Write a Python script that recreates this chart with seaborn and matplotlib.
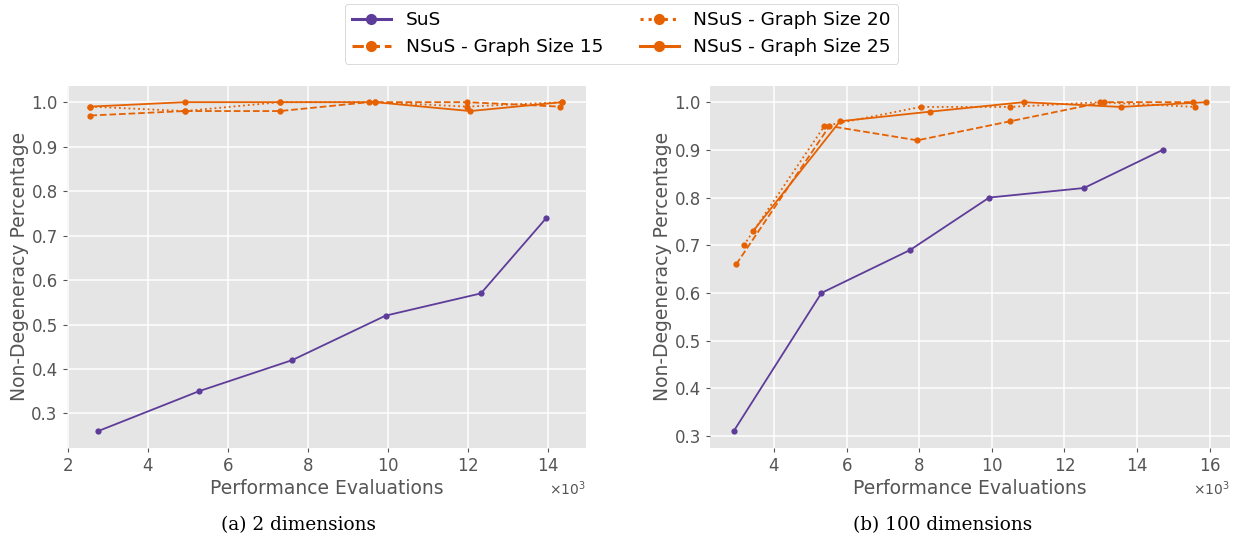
import matplotlib
matplotlib.use("Agg")
import matplotlib.pyplot as plt
import seaborn as sns
import numpy as np
from matplotlib.lines import Line2D
from matplotlib.ticker import ScalarFormatter

plt.style.use("ggplot")

# ---------------- data (x in performance evaluations) ----------------
# (a) 2 dimensions
a_sus_x = [2745, 5275, 7610, 9946, 12330, 13970]
a_sus_y = [0.26, 0.35, 0.42, 0.52, 0.57, 0.74]
a_g15_x = [2560, 4920, 7300, 9530, 11990, 14300]
a_g15_y = [0.97, 0.98, 0.98, 1.00, 1.00, 0.99]
a_g20_x = [2560, 4920, 7300, 9680, 11990, 14370]
a_g20_y = [0.99, 0.98, 1.00, 1.00, 0.99, 1.00]
a_g25_x = [2560, 4920, 7300, 9680, 12060, 14370]
a_g25_y = [0.99, 1.00, 1.00, 1.00, 0.98, 1.00]

# (b) 100 dimensions
b_sus_x = [2890, 5310, 7750, 9930, 12540, 14710]
b_sus_y = [0.31, 0.60, 0.69, 0.80, 0.82, 0.90]
b_g15_x = [2960, 5530, 7950, 10510, 13080, 15540]
b_g15_y = [0.66, 0.95, 0.92, 0.96, 1.00, 1.00]
b_g20_x = [3170, 5390, 8040, 10510, 12970, 15610]
b_g20_y = [0.70, 0.95, 0.99, 0.99, 1.00, 0.99]
b_g25_x = [3430, 5820, 8290, 10880, 13550, 15910]
b_g25_y = [0.73, 0.96, 0.98, 1.00, 0.99, 1.00]

labels = ["SuS", "NSuS - Graph Size 15", "NSuS - Graph Size 20", "NSuS - Graph Size 25"]
captions = ["(a) 2 dimensions", "(b) 100 dimensions"]

PURPLE = "#5e3c99"
ORANGE = "#e66101"
styles = [(PURPLE, "-"), (ORANGE, "--"), (ORANGE, ":"), (ORANGE, "-")]

fig = plt.figure(figsize=(12.38, 5.36), dpi=100)
axL = fig.add_axes([0.0539, 0.1647, 0.4195, 0.6754])
axR = fig.add_axes([0.5735, 0.1647, 0.4200, 0.6754])

panels = [
    (axL, [(a_sus_x, a_sus_y), (a_g15_x, a_g15_y), (a_g20_x, a_g20_y), (a_g25_x, a_g25_y)]),
    (axR, [(b_sus_x, b_sus_y), (b_g15_x, b_g15_y), (b_g20_x, b_g20_y), (b_g25_x, b_g25_y)]),
]

for ax, series in panels:
    ax.set_facecolor("#e5e5e5")
    for (xs, ys), (c, ls) in zip(series, styles):
        sns.lineplot(x=xs, y=ys, ax=ax, color=c, linestyle=ls, marker="o",
                     markersize=4.5, markeredgewidth=0, linewidth=1.3,
                     estimator=None, sort=False)
    ax.set_xlabel("Performance Evaluations", fontsize=13.5, color="#555555", labelpad=3)
    ax.set_ylabel("Non-Degeneracy Percentage", fontsize=13.5, color="#555555", labelpad=2)
    ax.tick_params(axis="both", labelsize=12, colors="#555555", length=3)
    ax.grid(True, color="white", linewidth=1.1)
    for s in ax.spines.values():
        s.set_visible(False)
    fmt = ScalarFormatter(useMathText=True)
    fmt.set_powerlimits((3, 3))
    ax.xaxis.set_major_formatter(fmt)
    ax.xaxis.get_offset_text().set_fontsize(10)
    ax.xaxis.get_offset_text().set_color("#555555")

axL.set_xticks([2000, 4000, 6000, 8000, 10000, 12000, 14000])
axL.set_yticks([0.3, 0.4, 0.5, 0.6, 0.7, 0.8, 0.9, 1.0])
axR.set_xticks([4000, 6000, 8000, 10000, 12000, 14000, 16000])
axR.set_yticks([0.3, 0.4, 0.5, 0.6, 0.7, 0.8, 0.9, 1.0])

for xc, cap in zip([0.2411, 0.7617], captions):
    fig.text(xc, 0.021, cap, ha="center", va="center",
             fontsize=13.3, family="DejaVu Serif", color="black")

handles = [Line2D([0], [0], color=c, linestyle=ls, marker="o", markersize=7,
                  linewidth=2.2) for c, ls in styles]
leg = fig.legend(handles, labels, loc="upper center", bbox_to_anchor=(0.502, 1.0),
                 borderaxespad=0.2, ncol=2, fontsize=13.3, frameon=True,
                 facecolor="white", edgecolor="#cccccc", framealpha=1,
                 columnspacing=2.0, handlelength=2.1)
for t in leg.get_texts():
    t.set_color("black")

fig.savefig("out.png", dpi=100)
